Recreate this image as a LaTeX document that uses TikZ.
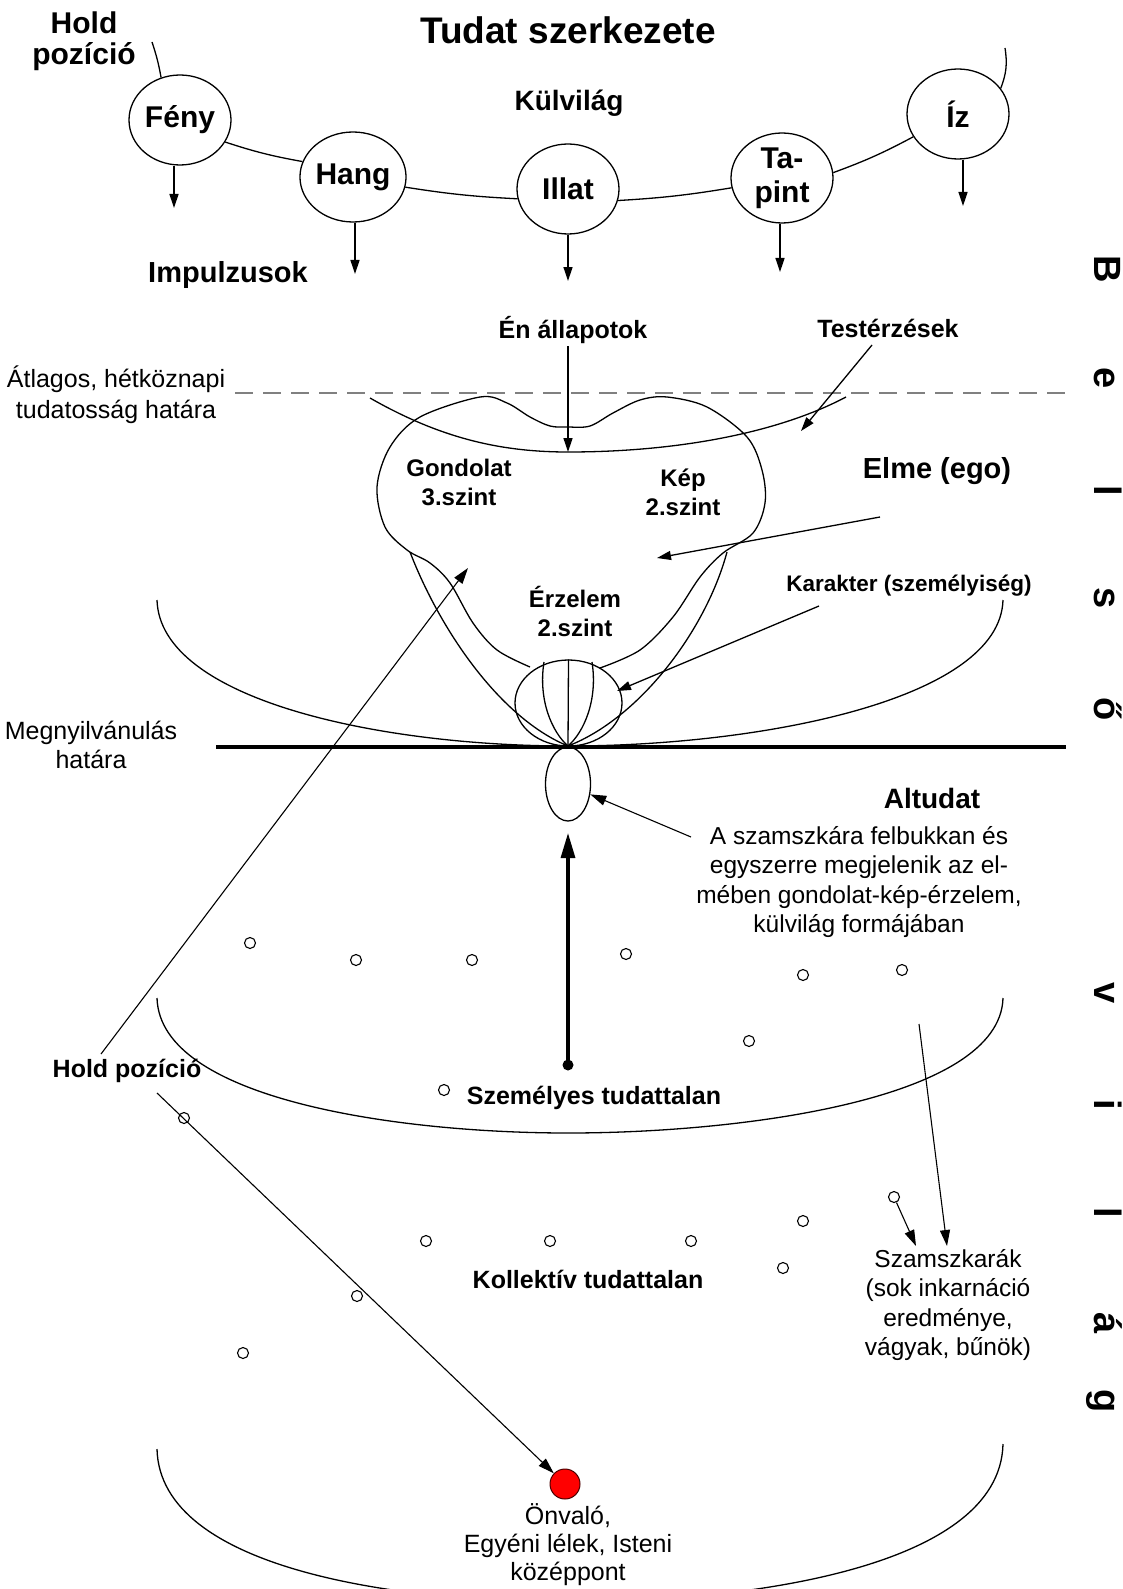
\documentclass[tikz,border=0pt]{standalone}
\usepackage{fontspec}
\setmainfont{Liberation Sans}
\usetikzlibrary{shapes.geometric,arrows.meta}
\begin{document}
\begin{tikzpicture}[x=1pt,y=-1pt,
  every node/.style={inner sep=0pt},
  bl/.style={font=\bfseries\fontsize{25}{29}\selectfont, align=center},
  rg/.style={font=\fontsize{25}{29.5}\selectfont, align=center},
  sense/.style={ellipse, draw, line width=1.3pt, minimum width=102pt, minimum height=90pt,
     font=\bfseries\fontsize{30}{30}\selectfont, align=center},
  ln/.style={line width=1.3pt},
  arr/.style={-{Triangle[length=14pt,width=9pt]}, line width=1.3pt},
  sarr/.style={-{Triangle[length=16pt,width=10pt]}, line width=1.1pt},
  small/.style={circle, draw, line width=1.1pt, minimum size=11pt},
  vlet/.style={font=\bfseries\fontsize{38}{38}\selectfont, rotate=-90, anchor=base},
]
\useasboundingbox (0,0) rectangle (1123,1589);
\fill[white] (0,0) rectangle (1123,1589);

% ---------- top ----------
\node[bl, font=\bfseries\fontsize{37}{40}\selectfont] (title) at (568,30) {Tudat szerkezete};
\node[bl, font=\bfseries\fontsize{30}{31}\selectfont] (holdtop) at (84,41) {Hold\\pozíció};
\node[bl, font=\bfseries\fontsize{28}{30}\selectfont] (kulvilag) at (569,103) {Külvilág};

\node[sense] (feny) at (180,120) {Fény};
\node[sense] (hang) at (353,177) {Hang};
\node[sense] (illat) at (568,189) {Illat};
\node[sense, font=\bfseries\fontsize{30}{34}\selectfont] (tapint) at (782,178) {Ta-\\pint};
\node[sense] (iz) at (958,114) {Íz};

\coordinate (hl) at (152,42);
\coordinate (ir) at (1005,48);
\draw[ln] (hl) to[bend left=4] (feny.114);
\draw[ln] (feny.-26) to[bend right=4] (hang.163);
\draw[ln] (hang.-11) to[bend right=3] (illat.191);
\draw[ln] (illat.-13) to[bend right=3] (tapint.191);
\draw[ln] (tapint.6) to[bend right=4] (iz.207);
\draw[ln] (iz.31) to[bend right=15] (ir);

\coordinate (fa) at (174,208);
\coordinate (ha) at (355,274);
\coordinate (ia) at (568,281);
\coordinate (ta) at (780,272);
\coordinate (za) at (963,206);
\draw[arr] (feny.south -| fa) -- (fa);
\draw[arr] (hang.south -| ha) -- (ha);
\draw[arr] (illat.south -| ia) -- (ia);
\draw[arr] (tapint.south -| ta) -- (ta);
\draw[arr] (iz.south -| za) -- (za);

\node[bl, font=\bfseries\fontsize{29}{30}\selectfont] (impulz) at (228,275) {Impulzusok};

% ---------- mind ----------
\node[bl] (en) at (573,330) {Én állapotok};
\node[bl] (test) at (888,328) {Testérzések};
\node[rg, font=\fontsize{25}{31}\selectfont] (atlag) at (116,395) {Átlagos, hétköznapi\\tudatosság határa};

\coordinate (dl) at (235,393);
\coordinate (dr) at (1072,393);
\draw[line width=2pt, gray, dash pattern=on 18pt off 10pt] (dl) -- (dr);

% outline of the mind
\draw[ln] plot[smooth, tension=0.55] coordinates {
 (530,667) (497,650) (473,623) (450,583) (430,563) (407,550) (385,527)
 (377,487) (390,447) (420,417) (480,397) (507,403) (530,417) (550,426)
 (568,427) (590,426) (613,413) (640,400) (667,397) (707,407) (747,437)
 (762,470) (765,503) (753,533) (723,553) (700,577) (673,617) (640,650) (600,668)};

% body sensation curve
\coordinate (tl) at (370,398);
\coordinate (tb) at (568,452);
\coordinate (tr) at (846,397);
\draw[ln] (tl) .. controls (440,438) and (500,452) .. (tb)
              .. controls (680,452) and (780,432) .. (tr);
\coordinate (ens) at (568,346);
\draw[arr] (ens) -- (tb);
\draw[arr] (872,345) coordinate (tes) -- (801,431);

\node[bl, font=\bfseries\fontsize{24}{29}\selectfont] (gond) at (459,482) {Gondolat\\3.szint};
\node[bl, font=\bfseries\fontsize{24}{29}\selectfont] (kep) at (683,492) {Kép\\2.szint};
\node[bl, font=\bfseries\fontsize{24}{29}\selectfont] (erz) at (575,611) {Érzelem\\2.szint};
\node[bl, font=\bfseries\fontsize{29}{30}\selectfont] (elme) at (937,471) {Elme (ego)};
\node[bl, font=\bfseries\fontsize{22.5}{29}\selectfont] (karakter) at (909,586) {Karakter (személyiség)};

% character circle
\node[ellipse, draw, line width=1.3pt, minimum width=107pt, minimum height=86pt] (kar) at (568.5,703) {};
\coordinate (mp) at (568,746);
\draw[ln] (kar.north) -- (mp);
\draw[ln] (544,662) .. controls (538,700) and (552,732) .. (mp);
\draw[ln] (592,662) .. controls (598,700) and (584,732) .. (mp);
% V lines
\draw[ln] (410,552) .. controls (440,630) and (500,718) .. (mp);
\draw[ln] (727,552) .. controls (706,630) and (640,718) .. (mp);
% bowl of karakter level
\coordinate (bl1) at (157,600);
\coordinate (br1) at (1003,600);
\draw[ln] (bl1) .. controls (160,700) and (380,746) .. (mp)
               .. controls (760,746) and (1000,700) .. (br1);

\draw[arr] (880,517) coordinate (elmes) -- (657,558);
\draw[arr] (819,606) coordinate (kars) -- (617,691);

% manifestation line
\coordinate (ml) at (216,747);
\coordinate (mr) at (1066,747);
\draw[line width=3.2pt] (ml) -- (mr);
\node[rg] (megny) at (91,745) {Megnyilvánulás\\határa};

% ---------- subconscious ----------
\node[ellipse, draw, line width=1.3pt, minimum width=45pt, minimum height=74pt] (alt) at (568,784) {};
\node[bl, font=\bfseries\fontsize{28}{30}\selectfont] (altudat) at (932,798) {Altudat};
\node[rg, font=\fontsize{24.5}{29.5}\selectfont] (szamtxt) at (859,882)
 {A szamszkára felbukkan és\\egyszerre megjelenik az el-\\mében gondolat-kép-érzelem,\\külvilág formájában};
\draw[sarr] (691,837) coordinate (szs) -- (alt.-25);

\node[circle, fill=black, minimum size=11pt] (pdot) at (568,1065) {};
\draw[line width=3.2pt, -{Triangle[length=25pt,width=14pt]}] (pdot.center) -- (alt.south |- 0,833);

% bowls
\coordinate (bl2) at (157,998);
\coordinate (br2) at (1003,998);
\draw[ln] (bl2) .. controls (160,1100) and (400,1133) .. (568,1133)
               .. controls (740,1133) and (1000,1100) .. (br2);
\coordinate (bl3) at (157,1449);
\coordinate (br3) at (1003,1444);
\draw[ln] (bl3) .. controls (160,1570) and (400,1602) .. (568,1602)
               .. controls (740,1602) and (1000,1570) .. (br3);

% small circles
\foreach \n/\x/\y in {1/250/943, 2/356/960, 3/472/960, 4/626/954, 5/803/975,
  6/902/970, 7/749/1041, 8/444/1090, 9/184/1118, 10/894/1197, 11/803/1221,
  12/426/1241, 13/550/1241, 14/691/1241, 15/783/1268, 16/357/1296, 17/243/1353}
  \node[small] (c\n) at (\x,\y) {};

\node[bl] (szemelyes) at (594,1098) {Személyes tudattalan};
\node[bl] (kollektiv) at (588,1279) {Kollektív tudattalan};

\node[rg, font=\fontsize{24.5}{29.5}\selectfont] (szamsk) at (948,1305)
 {Szamszkarák\\(sok inkarnáció\\eredménye,\\vágyak, bűnök)};
\coordinate (sa) at (916,1246);
\coordinate (sb) at (947,1246);
\coordinate (st) at (919,1024);
\draw[sarr] (c10) -- (sa);
\draw[sarr] (st) -- (sb);

% Hold pozicio lower
\node[bl] (holdlow) at (127,1071) {Hold pozíció};
\coordinate (h2) at (101,1054);
\draw[sarr] (h2) -- (468,568) coordinate (htip);
\coordinate (h3) at (157,1093);

\node[circle, draw=black!70!red, fill=red, line width=1pt, minimum size=30pt] (self) at (565,1484) {};
\draw[sarr] (h3) -- (self);
\node[rg, font=\fontsize{25}{28}\selectfont] (onvalo) at (568,1545) {Önvaló,\\Egyéni lélek, Isteni\\középpont};

% vertical letters
\foreach \n/\l/\y in {1/B/269, 2/e/378, 3/l/491, 4/s/598, 5/ő/709,
   6/v/993, 7/i/1105, 8/l/1213, 9/á/1323, 10/g/1401}
  \node[vlet] (v\n) at (1094,\y) {\l};
\end{tikzpicture}
\end{document}
